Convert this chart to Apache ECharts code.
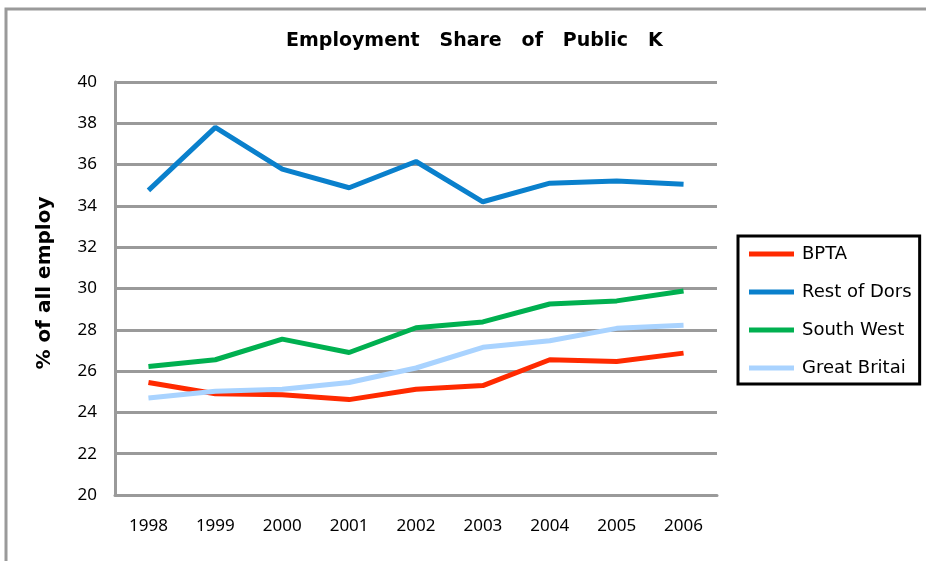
<!DOCTYPE html>
<html>
<head>
<meta charset="utf-8">
<script src="https://cdn.jsdelivr.net/npm/echarts@6/dist/echarts.min.js"></script>
<style>
  html, body { margin: 0; padding: 0; background: #fff; }
  #chart { width: 926px; height: 561px; }
</style>
</head>
<body>
<div id="chart"></div>
<script>
// Public sector share of employment, 1998-2006
const years = ['1998', '1999', '2000', '2001', '2002', '2003', '2004', '2005', '2006'];
const bpta        = [25.45, 24.9, 24.85, 24.62, 25.12, 25.3, 26.55, 26.46, 26.87];
const restOfDorset = [34.75, 37.8, 35.78, 34.88, 36.15, 34.2, 35.1, 35.2, 35.05];
const southWest   = [26.22, 26.55, 27.55, 26.9, 28.1, 28.38, 29.25, 29.4, 29.88];
const greatBritain = [24.7, 25.02, 25.12, 25.45, 26.15, 27.15, 27.47, 28.07, 28.22];

const seriesNames = ['BPTA', 'Rest of Dorset', 'South West', 'Great Britain'];
const seriesData = [bpta, restOfDorset, southWest, greatBritain];
const seriesColors = ['#ff2a00', '#0a80cc', '#00b050', '#a9d3ff'];

const yTicks = { min: 20, max: 40, step: 2 };

const chart = echarts.init(document.getElementById('chart'));

chart.setOption({
  backgroundColor: '#fff',
  animation: false,
  graphic: [
    {
      type: 'rect',
      shape: { x: 6, y: 9, width: 1000, height: 700 },
      style: { fill: 'none', stroke: '#9a9a9a', lineWidth: 3 },
      silent: true
    },
    {
      type: 'text',
      left: 286,
      top: 32,
      style: {
        text: 'Employment   Share   of   Public   K',
        font: 'bold 19px "DejaVu Sans"',
        fill: '#000'
      }
    },
    {
      type: 'text',
      x: 45,
      y: 283,
      rotation: Math.PI / 2,
      style: {
        text: '% of all employ',
        font: '900 20px "DejaVu Sans"',
        fill: '#000',
        align: 'center',
        verticalAlign: 'middle'
      }
    }
  ],
  grid: { left: 115, right: 209, top: 82, bottom: 66 },
  legend: {
    orient: 'vertical',
    left: 738,
    top: 236,
    borderColor: '#000',
    borderWidth: 3,
    padding: [9, 8, 7, 11],
    itemGap: 20,
    itemWidth: 45,
    itemHeight: 5,
    icon: 'rect',
    textStyle: {
      fontFamily: 'DejaVu Sans',
      fontSize: 18,
      color: '#000',
      width: 114,
      overflow: 'truncate',
      ellipsis: '',
      padding: [0, 0, 0, 3]
    },
    data: seriesNames
  },
  xAxis: {
    type: 'category',
    data: years,
    boundaryGap: true,
    axisLine: { lineStyle: { color: '#9a9a9a', width: 3 } },
    axisTick: { show: false },
    axisLabel: { color: '#000', fontFamily: 'Noto Sans', fontSize: 17, margin: 23 },
    splitLine: { show: false }
  },
  yAxis: {
    type: 'value',
    min: yTicks.min,
    max: yTicks.max,
    interval: yTicks.step,
    axisLine: { show: true, lineStyle: { color: '#9a9a9a', width: 3 } },
    axisTick: { show: false },
    axisLabel: { color: '#000', fontFamily: 'Noto Sans', fontSize: 17, margin: 18 },
    splitLine: { show: true, lineStyle: { color: '#9a9a9a', width: 3 } }
  },
  series: seriesNames.map((name, i) => ({
    name: name,
    type: 'line',
    data: seriesData[i],
    showSymbol: false,
    symbol: 'none',
    lineStyle: { color: seriesColors[i], width: 5 },
    itemStyle: { color: seriesColors[i] }
  }))
});
</script>
</body>
</html>
